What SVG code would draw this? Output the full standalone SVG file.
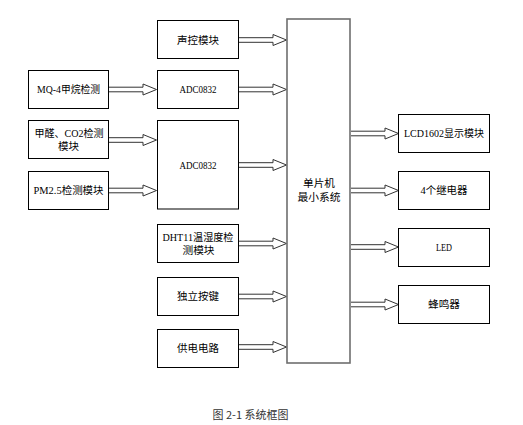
<svg xmlns="http://www.w3.org/2000/svg" xmlns:xlink="http://www.w3.org/1999/xlink" width="523" height="425" viewBox="0 0 523 425">
<style>
.box{fill:#fff;stroke:#000;stroke-width:1}
.mcu{fill:#fff;stroke:#6e6e6e;stroke-width:1.6}
.t{font-family:"Liberation Serif","Noto Sans CJK SC",serif;font-size:10.5px;fill:#000;text-anchor:middle}
.cap{font-family:"Noto Sans CJK SC","Liberation Sans",sans-serif;font-size:11px;fill:#333;text-anchor:middle}
.arr{fill:#fff;stroke:#333;stroke-width:1}
</style>
<defs>
<path id="a" class="arr" d="M0,-2.3 H34 V-5.5 L47.5,0 L34,5.5 V2.3 H0"/>
</defs>
<rect width="523" height="425" fill="#fff"/>
<g id="connectors">
<use xlink:href="#a" x="239" y="40"/>
<use xlink:href="#a" x="239" y="89.5"/>
<use xlink:href="#a" x="109" y="89.5"/>
<use xlink:href="#a" x="109" y="140"/>
<use xlink:href="#a" x="109" y="190.5"/>
<use xlink:href="#a" x="239" y="165"/>
<use xlink:href="#a" x="239" y="243.5"/>
<use xlink:href="#a" x="239" y="296.5"/>
<use xlink:href="#a" x="239" y="347"/>
<use xlink:href="#a" x="351" y="133.5"/>
<use xlink:href="#a" x="351" y="190.5"/>
<use xlink:href="#a" x="351" y="247"/>
<use xlink:href="#a" x="351" y="304.5"/>
</g>
<g id="n-voice"><rect class="box" x="157.5" y="20.5" width="81" height="38"/><text class="t" x="198" y="43.5" textLength="42" lengthAdjust="spacingAndGlyphs">声控模块</text></g>
<g id="n-adc1"><rect class="box" x="157.5" y="70.5" width="81" height="38"/><text class="t" x="198" y="93.2" textLength="37" lengthAdjust="spacingAndGlyphs">ADC0832</text></g>
<g id="n-mq4"><rect class="box" x="28.5" y="70.5" width="80" height="38"/><text class="t" x="68.5" y="93.2" textLength="63" lengthAdjust="spacingAndGlyphs">MQ-4甲烷检测</text></g>
<g id="n-hcho"><rect class="box" x="28.5" y="120.5" width="80" height="38"/><text class="t" x="69" y="137" textLength="69" lengthAdjust="spacingAndGlyphs">甲醛、CO2检测</text><text class="t" x="68.5" y="150" textLength="21" lengthAdjust="spacingAndGlyphs">模块</text></g>
<g id="n-pm25"><rect class="box" x="28.5" y="171.5" width="80" height="38"/><text class="t" x="68.5" y="194.2" textLength="70" lengthAdjust="spacingAndGlyphs">PM2.5检测模块</text></g>
<g id="n-adc2"><rect class="box" x="157.5" y="120.5" width="81" height="88.5"/><text class="t" x="198" y="168.7" textLength="37" lengthAdjust="spacingAndGlyphs">ADC0832</text></g>
<g id="n-dht"><rect class="box" x="157.5" y="224.5" width="81" height="38"/><text class="t" x="198" y="241" textLength="71" lengthAdjust="spacingAndGlyphs">DHT11温湿度检</text><text class="t" x="198.5" y="254" textLength="32" lengthAdjust="spacingAndGlyphs">测模块</text></g>
<g id="n-key"><rect class="box" x="157.5" y="277.5" width="81" height="38"/><text class="t" x="198" y="300.2" textLength="42" lengthAdjust="spacingAndGlyphs">独立按键</text></g>
<g id="n-power"><rect class="box" x="157.5" y="329.5" width="81" height="38"/><text class="t" x="198" y="352.2" textLength="42" lengthAdjust="spacingAndGlyphs">供电电路</text></g>
<g id="n-mcu"><rect class="mcu" x="287" y="19" width="63" height="344"/><text class="t" x="319" y="187" textLength="32" lengthAdjust="spacingAndGlyphs">单片机</text><text class="t" x="319" y="201.3" textLength="43" lengthAdjust="spacingAndGlyphs">最小系统</text></g>
<g id="n-lcd"><rect class="box" x="398.5" y="114.5" width="91" height="38"/><text class="t" x="444" y="137.2" textLength="80" lengthAdjust="spacingAndGlyphs">LCD1602显示模块</text></g>
<g id="n-relay"><rect class="box" x="398.5" y="171.5" width="91" height="38"/><text class="t" x="444" y="194.2" textLength="47" lengthAdjust="spacingAndGlyphs">4个继电器</text></g>
<g id="n-led"><rect class="box" x="398.5" y="228.5" width="91" height="38"/><text class="t" x="444" y="251.2" textLength="16" lengthAdjust="spacingAndGlyphs">LED</text></g>
<g id="n-buzzer"><rect class="box" x="398.5" y="285.5" width="91" height="38"/><text class="t" x="444" y="308.2" textLength="32" lengthAdjust="spacingAndGlyphs">蜂鸣器</text></g>
<text class="cap" x="250.5" y="419">图 2-1 系统框图</text>
</svg>
